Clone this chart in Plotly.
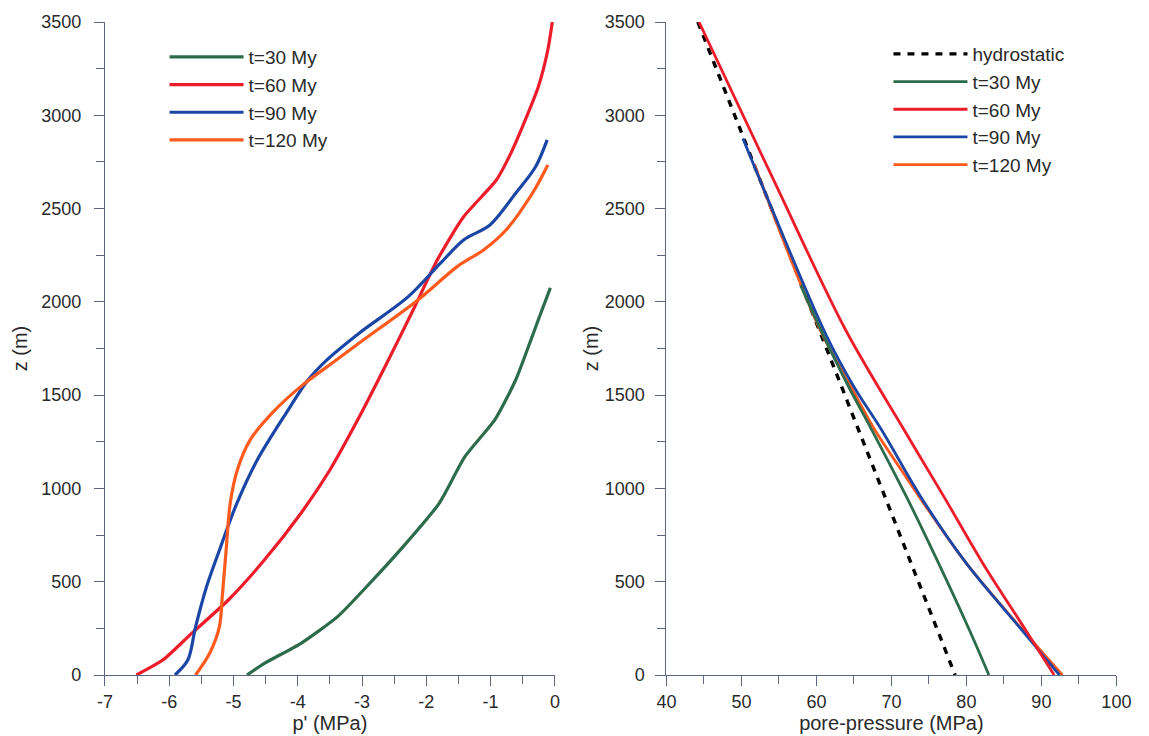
import plotly.graph_objects as go

# ---- left panel: p' (MPa) against height z (m) ----
green_z = [0, 62, 170, 313, 473, 688, 920, 1170, 1370, 1581, 1780, 1920, 2075]
green_p = [-4.79, -4.52, -3.95, -3.38, -2.93, -2.36, -1.80, -1.40, -0.93, -0.61, -0.39, -0.24, -0.07]

red_z = [0, 80, 223, 402, 616, 867, 1099, 1385, 1688, 1974, 2224, 2456, 2653,
         2800, 2975, 3150, 3350, 3500]
red_p = [-6.51, -6.10, -5.65, -5.08, -4.52, -3.95, -3.50, -3.04, -2.59, -2.18, -1.83,
         -1.42, -0.91, -0.68, -0.46, -0.26, -0.11, -0.04]

blue_z = [0, 80, 257, 472, 686, 901, 1152, 1404, 1581, 1688, 1831, 2028, 2207,
          2332, 2412, 2582, 2724, 2868]
blue_p = [-5.91, -5.71, -5.59, -5.42, -5.20, -4.97, -4.63, -4.18, -3.84, -3.55, -3.05,
          -2.28, -1.78, -1.42, -1.01, -0.61, -0.30, -0.12]

orange_z = [0, 117, 257, 439, 686, 922, 1099, 1260, 1404, 1547, 1688, 1778, 2010,
            2189, 2278, 2385, 2582, 2734]
orange_p = [-5.59, -5.37, -5.22, -5.17, -5.11, -5.05, -4.94, -4.74, -4.40, -3.95, -3.40,
            -3.05, -2.13, -1.52, -1.11, -0.76, -0.35, -0.11]

# ---- right panel: pore pressure (MPa) against height z (m) ----
hydro_z = [3500, 0]
hydro_pp = [44.2, 78.5]

green_pp_z = [2090, 1849, 1545, 1313, 956, 598, 241, 0]
green_pp = [57.9, 60.6, 64.3, 67.4, 72.0, 76.3, 80.4, 83.0]

red_pp_z = [3500, 2644, 1849, 1313, 956, 598, 241, 0]
red_pp = [44.35, 54.4, 63.9, 71.7, 77.0, 82.2, 87.9, 91.7]

blue_pp_z = [2876, 1822, 1545, 1313, 956, 598, 241, 0]
blue_pp = [50.2, 61.3, 65.0, 68.7, 73.9, 80.0, 87.4, 92.4]

orange_pp_z = [2739, 1849, 1545, 1313, 1100, 956, 598, 241, 0]
orange_pp = [51.7, 60.5, 64.6, 67.8, 71.3, 73.7, 80.0, 87.5, 92.8]

series_names = ["t=30 My", "t=60 My", "t=90 My", "t=120 My"]
colors = ["#2c6c4c", "#ec1c2a", "#1c46a6", "#ff5a1e"]

x1_ticks = [-7, -6, -5, -4, -3, -2, -1, 0]
x1_ticktext = ["-7", "-6", "-5", "-4", "-3", "-2", "-1", "0"]
x2_ticks = [40, 50, 60, 70, 80, 90, 100]
z_ticks = [0, 500, 1000, 1500, 2000, 2500, 3000, 3500]

W, H = 1149, 736
FONT = "Liberation Sans, Arial, sans-serif"
AXIS_COL = "#5d6781"
TEXT_COL = "#2a2a2a"

fig = go.Figure()

left = [(green_p, green_z), (red_p, red_z), (blue_p, blue_z), (orange_p, orange_z)]
left_smooth = [0.6, 0.6, 0.9, 0.9]
for i, (px, pz) in enumerate(left):
    fig.add_trace(go.Scatter(
        x=px, y=pz, mode="lines", name=series_names[i],
        line=dict(color=colors[i], width=3.2, shape="spline", smoothing=left_smooth[i]),
        xaxis="x", yaxis="y", legend="legend", legendrank=i + 1,
        legendgroup="l%d" % i,
    ))

# right panel, drawn bottom to top: hydrostatic, t=120, t=90, t=30, t=60
fig.add_trace(go.Scatter(
    x=hydro_pp, y=hydro_z, mode="lines", name="hydrostatic",
    line=dict(color="#000000", width=3.4, dash="7px,7px"),
    xaxis="x2", yaxis="y2", legend="legend2", legendrank=1, legendgroup="r0",
))
right = [(green_pp, green_pp_z), (red_pp, red_pp_z), (blue_pp, blue_pp_z), (orange_pp, orange_pp_z)]
for i in (3, 2, 0, 1):
    px, pz = right[i]
    fig.add_trace(go.Scatter(
        x=px, y=pz, mode="lines", name=series_names[i],
        line=dict(color=colors[i], width=2.8, shape="spline", smoothing=0.9),
        xaxis="x2", yaxis="y2", legend="legend2", legendrank=i + 2,
        legendgroup="r%d" % (i + 1),
    ))

common_axis = dict(
    showline=True, linecolor=AXIS_COL, linewidth=1, mirror=False,
    ticks="outside", ticklen=10, tickwidth=1, tickcolor=AXIS_COL,
    showgrid=False, zeroline=False,
    tickfont=dict(family=FONT, size=18, color=TEXT_COL),
    title_font=dict(family=FONT, size=20, color=TEXT_COL),
)
minor_common = dict(ticks="outside", ticklen=8, tickcolor=AXIS_COL, tick0=0)

fig.update_layout(
    width=W, height=H, autosize=False,
    margin=dict(l=0, r=0, t=22, b=61),
    paper_bgcolor="white", plot_bgcolor="white",
    font=dict(family=FONT, color=TEXT_COL),
    xaxis=dict(domain=[97 / W, 557 / W], range=[-7, 0], anchor="y",
               tickvals=x1_ticks, ticktext=x1_ticktext,
               minor=dict(dtick=0.5, **minor_common),
               title=dict(text="p' (MPa)", standoff=0), **common_axis),
    yaxis=dict(domain=[0, 1], range=[0, 3500], anchor="x", tickvals=z_ticks,
               ticklabelstandoff=9,
               minor=dict(dtick=250, **minor_common),
               title=dict(text="z (m)", standoff=8), **common_axis),
    xaxis2=dict(domain=[671 / W, 1131 / W], range=[40, 100], anchor="y2", tickvals=x2_ticks,
                minor=dict(dtick=5, **minor_common),
                title=dict(text="pore-pressure (MPa)", standoff=0), **common_axis),
    yaxis2=dict(domain=[0, 1], range=[0, 3500], anchor="x2", tickvals=z_ticks,
                ticklabelstandoff=7,
                minor=dict(dtick=250, **minor_common),
                title=dict(text="z (m)", standoff=0), **common_axis),
    legend=dict(x=158 / W, y=(675 - 38) / 653, xanchor="left", yanchor="top",
                bgcolor="rgba(0,0,0,0)", font=dict(family=FONT, size=19, color=TEXT_COL),
                tracegroupgap=0, itemwidth=74, traceorder="grouped"),
    legend2=dict(x=898 / W, y=(675 - 35) / 653, xanchor="left", yanchor="top",
                 bgcolor="rgba(0,0,0,0)", font=dict(family=FONT, size=19, color=TEXT_COL),
                 tracegroupgap=0, itemwidth=74, traceorder="grouped"),
)

fig.write_html("out.html")
